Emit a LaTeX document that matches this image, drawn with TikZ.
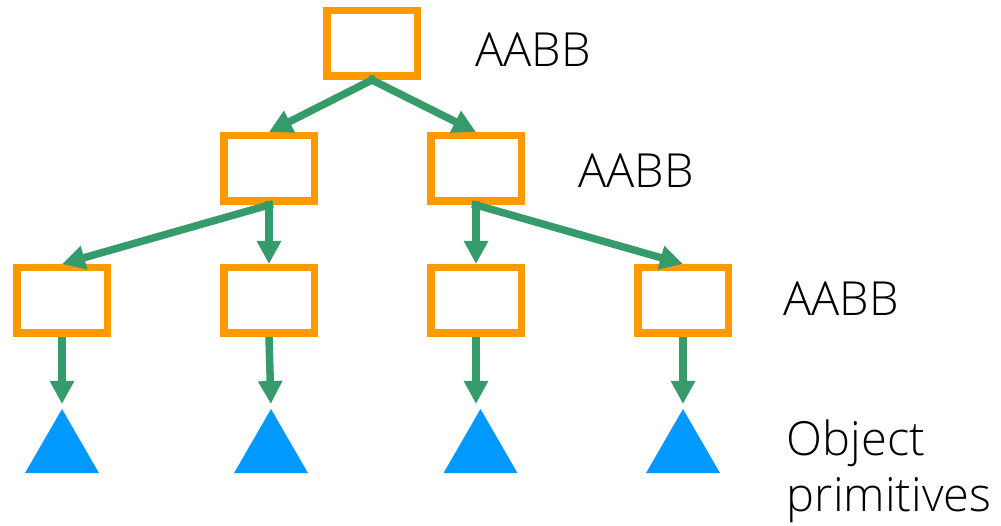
\documentclass[tikz,border=0pt]{standalone}
\usepackage{fontspec}
\setmainfont{Open Sans}[UprightFont=* Light]
\usetikzlibrary{arrows.meta, positioning, shapes.geometric}
\definecolor{aabborange}{RGB}{255,153,0}
\definecolor{arrowgreen}{RGB}{54,155,106}
\definecolor{primblue}{RGB}{0,153,255}

\begin{document}
\begin{tikzpicture}[
    box/.style={rectangle, draw=aabborange, line width=7.5pt, minimum width=90.5pt, minimum height=65.5pt, inner sep=0pt},
    prim/.style={regular polygon, regular polygon sides=3, fill=primblue, minimum size=85.4pt, inner sep=0pt, outer sep=0pt},
    arrow/.style={-{Triangle[length=23pt, width=23pt]}, color=arrowgreen, line width=7.5pt},
    lbl/.style={font=\fontsize{47}{56}\selectfont, inner sep=0pt, align=left}
]
    \useasboundingbox (0,0) rectangle (1001pt,525pt);

    % Root
    \node[box] (root) at (372pt,481.5pt) {};

    % Second level
    \node[box, below left=52pt and 5pt of root] (l2a) {};
    \node[box, below right=52pt and 6pt of root] (l2b) {};

    % Leaves
    \node[box, below=59pt of l2a] (l3b) {};
    \node[box, left=109pt of l3b] (l3a) {};
    \node[box, below=59pt of l2b] (l3c) {};
    \node[box, right=109pt of l3c] (l3d) {};

    % Primitives
    \node[prim, below=72pt of l3a] (tria) {};
    \node[prim, below=72pt of l3b, xshift=2pt] (trib) {};
    \node[prim, below=72pt of l3c, xshift=4.5pt] (tric) {};
    \node[prim, below=72pt of l3d] (trid) {};

    % Arrows
    \draw[arrow, shorten <=-4pt] (root.south) -- (l2a.north);
    \draw[arrow, shorten <=-4pt] (root.south) -- (l2b.north);
    \draw[arrow, shorten <=-4pt] (l2a.south) -- (l3a.north);
    \draw[arrow, shorten <=-4pt] (l2a.south) -- (l3b.north);
    \draw[arrow, shorten <=-4pt] (l2b.south) -- (l3c.north);
    \draw[arrow, shorten <=-4pt] (l2b.south) -- (l3d.north);
    \draw[arrow, shorten >=5pt] (l3a.south) -- (tria.north);
    \draw[arrow, shorten >=5pt] (l3b.south) -- (trib.north);
    \draw[arrow, shorten >=5pt] (l3c.south) -- (l3c.south |- tric.north);
    \draw[arrow, shorten >=5pt] (l3d.south) -- (trid.north);

    % Labels
    \node[lbl, right=54pt of root, yshift=-6pt] (lblroot) {AABB};
    \node[lbl, right=53pt of l2b, yshift=-2.5pt] (lblmid) {AABB};
    \node[lbl, right=51pt of l3d, yshift=2pt] (lblleaf) {AABB};
    \node[lbl, right=79pt of trid, yshift=-20pt] (lblprim) {Object\\primitives};

\end{tikzpicture}
\end{document}
